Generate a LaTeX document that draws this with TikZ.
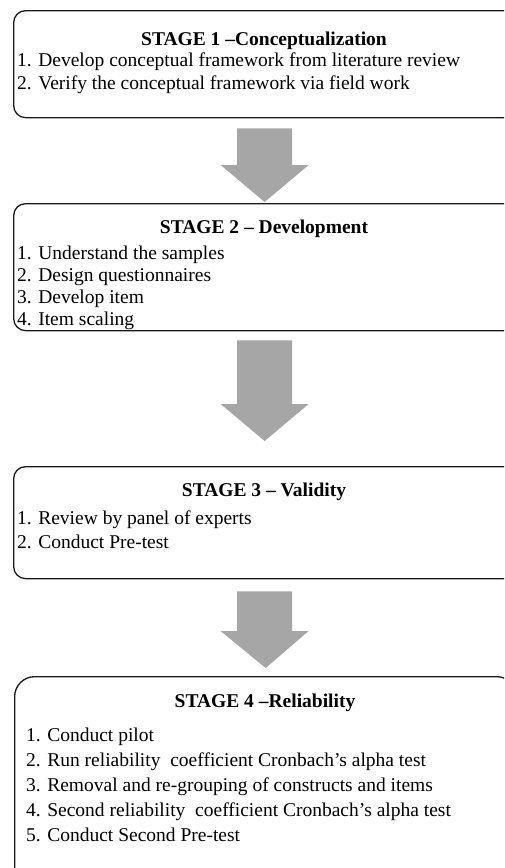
\documentclass[tikz,border=0pt]{standalone}
\usepackage{fontspec}
\setmainfont{Liberation Serif}
\usepackage{tikz}
\usetikzlibrary{calc, positioning}
\usepackage{xcolor}
\definecolor{arrowgray}{RGB}{166, 166, 166}
\definecolor{boxline}{RGB}{25, 25, 25}

\tikzset{
  stagebox/.style={draw=boxline, line width=1.3pt, rounded corners=12pt,
    minimum width=502pt, anchor=north west, inner sep=0pt},
  stagetitle/.style={font=\fontsize{19.5}{23}\selectfont\bfseries, inner sep=0pt, anchor=base},
  stageitem/.style={font=\fontsize{19.5}{23}\selectfont, inner sep=0pt, anchor=base west},
}
% block arrow from the top of its shaft (#1) down to its tip (#2)
\newcommand{\stagearrow}[2]{%
  \fill[arrowgray] let \p1=(#1), \p2=(#2) in
    (\x1-27.5pt,\y1) -- (\x1+27.5pt,\y1) -- (\x1+27.5pt,\y2+37pt) -- (\x1+44pt,\y2+37pt)
    -- (\x2,\y2) -- (\x1-44pt,\y2+37pt) -- (\x1-27.5pt,\y2+37pt) -- cycle;}

\begin{document}
\begin{tikzpicture}[x=1pt, y=-1pt]
  \useasboundingbox (0,0) rectangle (504,868);
  \clip (0,0) rectangle (504,868);

  % --- STAGE 1 ---
  \node[stagebox, minimum height=107pt] (s1) at (13,10) {};
  \node[stagetitle] (s1t) at (264,45) {STAGE 1 –Conceptualization};
  \foreach \txt [count=\i] in {Develop conceptual framework from literature review,
      Verify the conceptual framework via field work}
    \node[stageitem] (s1i\i) at (17,43+23*\i) {\i. \txt};

  % --- STAGE 2 ---
  \node[stagebox, minimum height=127pt] (s2) at (13,203) {};
  \node[stagetitle] (s2t) at (264,233) {STAGE 2 – Development};
  \foreach \txt [count=\i] in {Understand the samples, Design questionnaires,
      Develop item, Item scaling}
    \node[stageitem] (s2i\i) at (17,237+22*\i) {\i. \txt};

  % --- STAGE 3 ---
  \node[stagebox, minimum height=112pt] (s3) at (13,466) {};
  \node[stagetitle] (s3t) at (264,496) {STAGE 3 – Validity};
  \foreach \txt [count=\i] in {Review by panel of experts, Conduct Pre-test}
    \node[stageitem] (s3i\i) at (17,500+24*\i) {\i. \txt};

  % --- STAGE 4 ---
  \node[stagebox, rounded corners=20pt, minimum height=210pt] (s4) at (14,676) {};
  \node[stagetitle] (s4t) at (265,707) {STAGE 4 –Reliability};
  \foreach \txt [count=\i] in {Conduct pilot,
      Run reliability\ \ coefficient Cronbach’s alpha test,
      Removal and re-grouping of constructs and items,
      Second reliability\ \ coefficient Cronbach’s alpha test,
      Conduct Second Pre-test}
    \node[stageitem] (s4i\i) at (26,716+25*\i) {\i. \txt};

  % --- arrows between stages ---
  \coordinate (a1) at ($(s1.south)+(0,10)$);
  \coordinate (a2) at ($(s2.south)+(0,9)$);
  \coordinate (a3) at ($(s3.south)+(0,12)$);
  \stagearrow{a1}{$(s2.north)+(0,-1)$}
  \stagearrow{a2}{$(s3.north)+(0,-25)$}
  \stagearrow{a3}{$(s4.north)+(0,-8)$}
\end{tikzpicture}
\end{document}
